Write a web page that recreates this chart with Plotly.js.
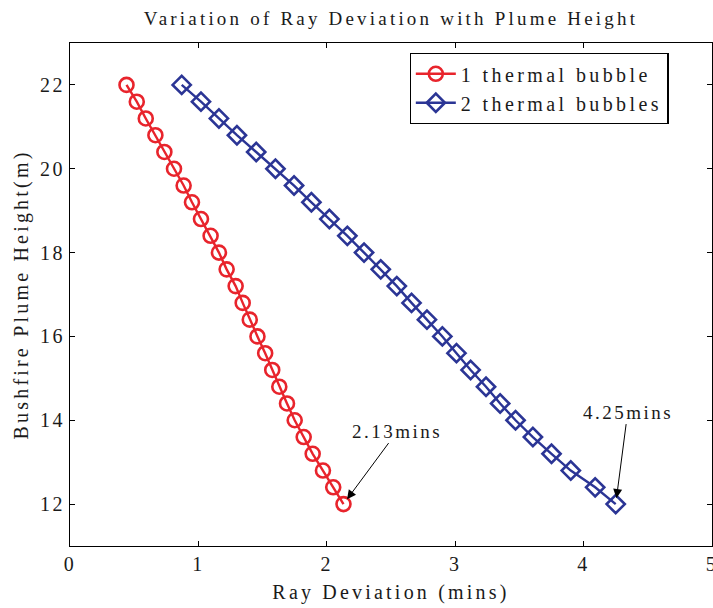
<!DOCTYPE html>
<html>
<head>
<meta charset="utf-8">
<script src="https://cdn.plot.ly/plotly-3.0.1.min.js"></script>
<style>
  html, body { margin: 0; padding: 0; background: #fff; }
  #chart { width: 713px; height: 608px; }
  svg text { letter-spacing: 2.5px; }
  svg text.gtitle { letter-spacing: 3.2px; }
  svg text.legendtext { letter-spacing: 3.4px; }
  svg text.xtitle, svg text.ytitle { letter-spacing: 3.2px; }
</style>
</head>
<body>
<div id="chart"></div>
<script>
// Plume height (m)
const heights = [22, 21.6, 21.2, 20.8, 20.4, 20.0, 19.6, 19.2, 18.8, 18.4, 18.0, 17.6, 17.2,
                 16.8, 16.4, 16.0, 15.6, 15.2, 14.8, 14.4, 14.0, 13.6, 13.2, 12.8, 12.4, 12.0];
// Ray deviation (mins) – 1 thermal bubble
const deviationOne = [0.44, 0.52, 0.59, 0.665, 0.735, 0.81, 0.885, 0.95, 1.02, 1.095, 1.16, 1.22, 1.29,
                      1.345, 1.40, 1.46, 1.52, 1.575, 1.63, 1.69, 1.75, 1.82, 1.89, 1.97, 2.05, 2.13];
// Ray deviation (mins) – 2 thermal bubbles
const deviationTwo = [0.87, 1.02, 1.16, 1.30, 1.45, 1.60, 1.745, 1.88, 2.02, 2.16, 2.29, 2.42, 2.545,
                      2.66, 2.78, 2.90, 3.01, 3.12, 3.24, 3.35, 3.47, 3.605, 3.75, 3.90, 4.09, 4.25];
const seriesNames = ['1 thermal bubble', '2 thermal bubbles'];
const xTicks = [0, 1, 2, 3, 4, 5];
const yTicks = [12, 14, 16, 18, 20, 22];
const endLabels = ['2.13mins', '4.25mins'];

const red = '#e8242c';
const blue = '#2b3595';
const font = 'Liberation Serif, Times New Roman, serif';
const ink = '#1a1a1a';

const traces = [
  {
    x: deviationOne, y: heights, name: seriesNames[0], type: 'scatter', mode: 'lines+markers',
    line: {color: red, width: 2.4},
    marker: {symbol: 'circle-open', size: 14, color: red, line: {width: 2.6, color: red}}
  },
  {
    x: deviationTwo, y: heights, name: seriesNames[1], type: 'scatter', mode: 'lines+markers',
    line: {color: blue, width: 2.4},
    marker: {symbol: 'diamond-open', size: 14, color: blue, line: {width: 2.6, color: blue}}
  }
];

const n = heights.length - 1;
const layout = {
  width: 713, height: 608,
  margin: {l: 70, r: 1, t: 43, b: 62},
  paper_bgcolor: '#fff', plot_bgcolor: '#fff',
  font: {family: font, size: 18, color: ink},
  title: {text: 'Variation of Ray Deviation with Plume Height', x: 0.5, xref: 'paper',
          y: 1 - 18 / 608, yanchor: 'middle', font: {family: font, size: 19, color: ink}},
  xaxis: {
    range: [0, 5], tickvals: xTicks, ticktext: xTicks.map(String), ticklabeloverflow: 'allow',
    showgrid: false, zeroline: false, showline: true, linecolor: '#000', linewidth: 1,
    mirror: 'ticks', ticks: 'inside', ticklen: 5, tickcolor: '#000',
    tickfont: {family: font, size: 20, color: ink},
    title: {text: 'Ray Deviation (mins)', standoff: 10, font: {family: font, size: 20, color: ink}}
  },
  yaxis: {
    range: [11, 23], tickvals: yTicks, ticktext: yTicks.map(String),
    showgrid: false, zeroline: false, showline: true, linecolor: '#000', linewidth: 1,
    mirror: 'ticks', ticks: 'inside', ticklen: 5, tickcolor: '#000',
    tickfont: {family: font, size: 20, color: ink},
    title: {text: 'Bushfire Plume Height(m)', standoff: 6, font: {family: font, size: 20, color: ink}}
  },
  legend: {
    x: 0.529, y: 0.98, xanchor: 'left', yanchor: 'top',
    bgcolor: '#fff', bordercolor: '#000', borderwidth: 1.2,
    font: {family: font, size: 20, color: ink},
    tracegroupgap: 0, itemwidth: 40
  },
  showlegend: true,
  annotations: [
    {x: deviationOne[n], y: heights[n], text: endLabels[0], showarrow: true,
     ax: 54, ay: -73, arrowhead: 2, arrowsize: 1.8, arrowwidth: 1, arrowcolor: '#000', standoff: 6,
     font: {family: font, size: 19, color: ink}},
    {x: deviationTwo[n], y: heights[n], text: endLabels[1], showarrow: true,
     ax: 12, ay: -92, arrowhead: 2, arrowsize: 1.8, arrowwidth: 1, arrowcolor: '#000', standoff: 6,
     font: {family: font, size: 19, color: ink}}
  ]
};

Plotly.newPlot('chart', traces, layout, {displayModeBar: false, staticPlot: true});
</script>
</body>
</html>
